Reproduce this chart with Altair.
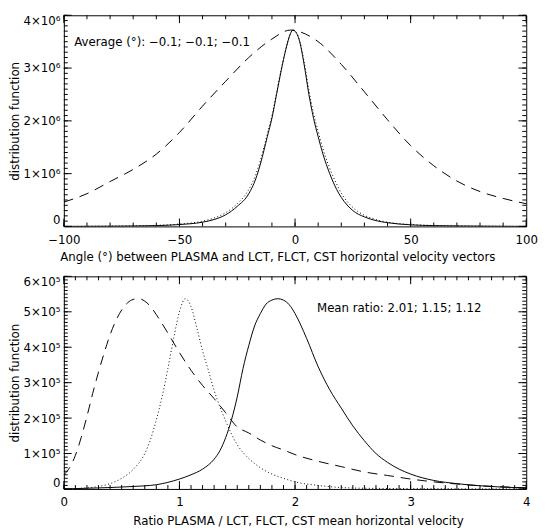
import altair as alt
import pandas as pd
import numpy as np

FONT = "DejaVu Sans"

# ---------------- Top panel: angle distributions (values in units of 1e6) ----------------
top_solid_angle = [-100, -80, -60, -50, -40, -35, -30, -25, -20, -17, -15, -12, -10, -8, -6, -4, -2, -1, 0,
                   2, 4, 6, 8, 10, 12, 15, 18, 20, 25, 30, 35, 40, 50, 60, 80, 100]
top_solid_val = [0.0, 0.004, 0.015, 0.035, 0.08, 0.13, 0.22, 0.38, 0.62, 0.9, 1.18, 1.7, 2.05, 2.5, 2.95, 3.35, 3.65, 3.72, 3.70,
                 3.5, 3.05, 2.5, 2.05, 1.7, 1.38, 1.0, 0.7, 0.55, 0.3, 0.18, 0.11, 0.07, 0.03, 0.015, 0.005, 0.0]

top_dot_angle = top_solid_angle
top_dot_val = [0.0, 0.006, 0.02, 0.045, 0.1, 0.16, 0.26, 0.43, 0.7, 0.98, 1.25, 1.75, 2.1, 2.53, 2.97, 3.36, 3.65, 3.72, 3.70,
               3.52, 3.1, 2.58, 2.14, 1.8, 1.48, 1.1, 0.8, 0.63, 0.36, 0.21, 0.13, 0.08, 0.035, 0.017, 0.006, 0.0]

top_dash_angle = [-100, -90, -80, -70, -60, -50, -40, -30, -20, -10, -2, 0, 10, 20, 30, 40, 50, 60, 70, 80, 90, 100]
top_dash_val = [0.46, 0.62, 0.85, 1.08, 1.37, 1.78, 2.28, 2.75, 3.2, 3.55, 3.72, 3.71, 3.5, 3.07, 2.55, 2.02, 1.53, 1.15,
                0.86, 0.66, 0.53, 0.43]

top_x_ticks = [-100, -50, 0, 50, 100]
top_y_ticks = [0, 1, 2, 3, 4]
top_text = "Average (°): \u22120.1; \u22120.1; \u22120.1"

# ---------------- Bottom panel: ratio distributions (values in units of 1e5) ----------------
bot_solid_ratio = [0.0, 0.2, 0.4, 0.6, 0.8, 1.0, 1.1, 1.2, 1.3, 1.35, 1.4, 1.45, 1.5, 1.55, 1.6, 1.65, 1.7, 1.75, 1.8,
                   1.85, 1.9, 1.95, 2.0, 2.1, 2.2, 2.3, 2.4, 2.5, 2.6, 2.7, 2.8, 2.9, 3.0, 3.2, 3.4, 3.6, 3.8, 4.0]
bot_solid_val = [0.0, 0.02, 0.04, 0.07, 0.12, 0.28, 0.4, 0.56, 0.84, 1.08, 1.45, 1.95, 2.6, 3.4, 4.05, 4.6, 4.95, 5.22, 5.33,
                 5.37, 5.33, 5.2, 4.95, 4.25, 3.45, 2.8, 2.28, 1.78, 1.36, 1.0, 0.75, 0.56, 0.42, 0.24, 0.15, 0.09, 0.05, 0.03]

bot_dot_ratio = [0.0, 0.2, 0.3, 0.4, 0.5, 0.6, 0.7, 0.75, 0.8, 0.85, 0.9, 0.95, 1.0, 1.05, 1.1, 1.15, 1.2, 1.25, 1.3,
                 1.35, 1.4, 1.45, 1.5, 1.6, 1.7, 1.8, 1.9, 2.0, 2.2, 2.4, 2.6, 3.0, 4.0]
bot_dot_val = [0.0, 0.03, 0.07, 0.15, 0.3, 0.55, 1.0, 1.4, 1.95, 2.6, 3.4, 4.25, 5.0, 5.37, 5.15, 4.55, 3.9, 3.35, 2.78,
               2.32, 1.92, 1.55, 1.25, 0.86, 0.6, 0.42, 0.3, 0.2, 0.1, 0.04, 0.02, 0.01, 0.0]

bot_dash_ratio = [0.0, 0.05, 0.1, 0.15, 0.2, 0.25, 0.3, 0.35, 0.4, 0.45, 0.5, 0.55, 0.6, 0.65, 0.7, 0.75, 0.8, 0.9, 1.0,
                  1.1, 1.2, 1.3, 1.4, 1.5, 1.6, 1.7, 1.8, 1.9, 2.0, 2.2, 2.4, 2.6, 2.8, 3.0, 3.2, 3.4, 3.6, 3.8, 4.0]
bot_dash_val = [0.4, 0.6, 0.95, 1.45, 2.05, 2.7, 3.3, 3.85, 4.35, 4.75, 5.05, 5.25, 5.35, 5.37, 5.3, 5.15, 4.92, 4.4, 3.85,
                3.35, 2.92, 2.55, 2.15, 1.75, 1.58, 1.38, 1.22, 1.1, 0.97, 0.78, 0.63, 0.48, 0.38, 0.28, 0.2, 0.14, 0.09,
                0.06, 0.03]

bot_x_ticks = [0, 1, 2, 3, 4]
bot_y_ticks = [0, 1, 2, 3, 4, 5, 6]
bot_text = "Mean ratio: 2.01; 1.15; 1.12"

W = 472
MAJ = 8
MIN = 4


def panel(series, xdom, ydom, xmaj, xstep, ymaj, ystep, xtitle, title_x, ylabexp, H, txt, tx, ty, title_pad):
    xs = alt.Scale(domain=xdom, nice=False, zero=False)
    ys = alt.Scale(domain=ydom, nice=False, zero=False)
    ax_x = alt.Axis(values=xmaj, title=xtitle, ticks=False, domain=False, grid=False, format="d",
                    labelPadding=8, titlePadding=title_pad, titleX=title_x, labelFlush=False)
    ax_y = alt.Axis(values=ymaj, title="distribution function", ticks=False, domain=False, grid=False,
                    labelExpr=ylabexp, labelPadding=4, titlePadding=1, labelFlush=True)
    X = lambda: alt.X("x:Q", scale=xs, axis=ax_x)
    Y = lambda: alt.Y("y:Q", scale=ys, axis=ax_y)
    layers = []
    for xv, yv, dash in series:
        df = pd.DataFrame({"x": xv, "y": yv})
        kw = dict(color="black", strokeWidth=1, interpolate="monotone", clip=True)
        if dash:
            kw["strokeDash"] = dash
        layers.append(alt.Chart(df).mark_line(**kw).encode(x=X(), y=Y()))
    # inward ticks on all four sides
    xminor = np.round(np.arange(xdom[0], xdom[1] + xstep / 2, xstep), 6)
    yminor = np.round(np.arange(ydom[0], ydom[1] + ystep / 2, ystep), 6)
    for vals, L in ((xminor, MIN), (xmaj, MAJ)):
        d = pd.DataFrame({"x": vals})
        layers.append(alt.Chart(d).mark_rule(color="black", strokeWidth=1).encode(
            x=X(), y=alt.value(H), y2=alt.value(H - L)))
        layers.append(alt.Chart(d).mark_rule(color="black", strokeWidth=1).encode(
            x=X(), y=alt.value(0), y2=alt.value(L)))
    for vals, L in ((yminor, MIN), (ymaj, MAJ)):
        d = pd.DataFrame({"y": vals})
        layers.append(alt.Chart(d).mark_rule(color="black", strokeWidth=1).encode(
            y=Y(), x=alt.value(0), x2=alt.value(L)))
        layers.append(alt.Chart(d).mark_rule(color="black", strokeWidth=1).encode(
            y=Y(), x=alt.value(W), x2=alt.value(W - L)))
    tdf = pd.DataFrame({"x": [tx], "y": [ty], "t": [txt]})
    layers.append(alt.Chart(tdf).mark_text(align="left", baseline="middle", font=FONT, fontSize=12,
                                           color="black").encode(x=X(), y=Y(), text="t:N"))
    return alt.layer(*layers).properties(width=W, height=H)


top = panel(
    [(top_solid_angle, top_solid_val, None), (top_dot_angle, top_dot_val, [1, 2.5]),
     (top_dash_angle, top_dash_val, [10, 7])],
    [-100, 100], [0, 4], top_x_ticks, 10, top_y_ticks, 0.1,
    "Angle (°) between PLASMA and LCT, FLCT, CST horizontal velocity vectors", 218,
    "datum.value == 0 ? '0' : datum.value + '×10⁶'", 215.5, top_text, -95.5, 3.5, 7)

bottom = panel(
    [(bot_solid_ratio, bot_solid_val, None), (bot_dot_ratio, bot_dot_val, [1, 2.5]),
     (bot_dash_ratio, bot_dash_val, [10, 7])],
    [0, 4], [0, 6], bot_x_ticks, 0.1, bot_y_ticks, 0.1,
    "Ratio PLASMA / LCT, FLCT, CST mean horizontal velocity", 239,
    "datum.value == 0 ? '0' : datum.value + '×10⁵'", 217, bot_text, 2.19, 5.1, 8)

chart = alt.vconcat(top, bottom, spacing=50.5, bounds="flush").properties(
    padding=0, background="white"
).configure_view(stroke="black", strokeWidth=1).configure_axis(
    labelFont=FONT, labelFontSize=12, labelColor="black",
    titleFont=FONT, titleFontSize=12, titleFontWeight="normal", titleColor="black"
)

chart.save("out.html", embed_options={"renderer": "svg", "actions": False})
